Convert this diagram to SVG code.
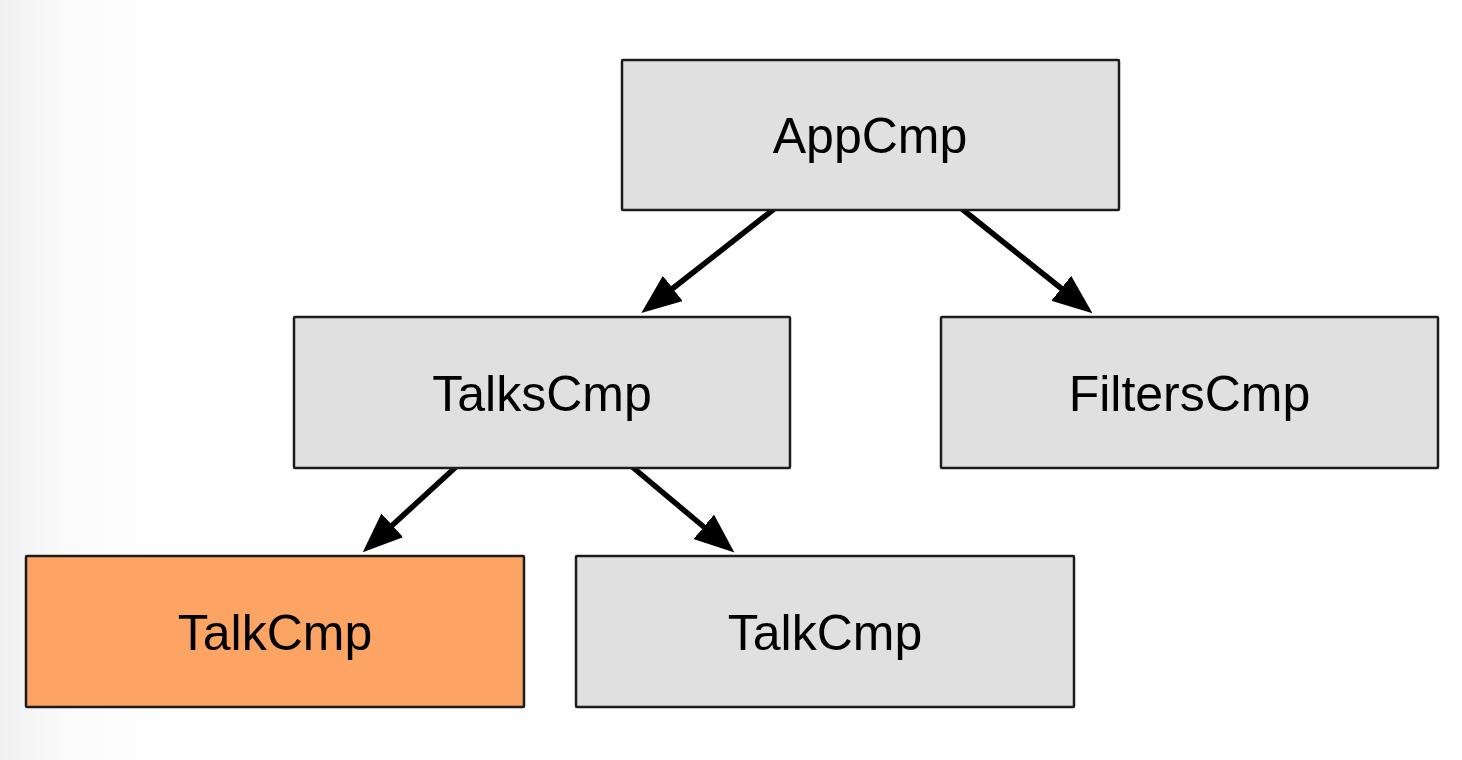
<svg xmlns="http://www.w3.org/2000/svg" width="1462" height="760" viewBox="0 0 1462 760">
  <defs>
    <linearGradient id="bg" x1="0" y1="0" x2="1" y2="0">
      <stop offset="0" stop-color="#f0f0f0"/>
      <stop offset="0.045" stop-color="#fbfbfb"/>
      <stop offset="0.12" stop-color="#ffffff"/>
      <stop offset="1" stop-color="#ffffff"/>
    </linearGradient>
    <marker id="arrow" markerUnits="userSpaceOnUse" markerWidth="42" markerHeight="34" refX="1" refY="16" orient="auto">
      <path d="M0,0 L40,16 L0,32 Z" fill="#000"/>
    </marker>
    <style>
      .box { stroke: #1c1c1c; stroke-width: 2.5; }
      .gray { fill: #e0e0e0; }
      .orange { fill: #fca463; }
      .label { font-family: "Liberation Sans", Arial, Helvetica, sans-serif; font-size: 50px; fill: #000; text-anchor: middle; }
      .edge { stroke: #000; stroke-width: 5.5; fill: none; marker-end: url(#arrow); }
    </style>
  </defs>
  <rect x="0" y="0" width="1462" height="760" fill="url(#bg)"/>
  <g id="connectors">
    <line class="edge" x1="774" y1="209" x2="672" y2="289"/>
    <line class="edge" x1="962" y1="209" x2="1062" y2="289"/>
    <line class="edge" x1="458" y1="465" x2="391.5" y2="526"/>
    <line class="edge" x1="630" y1="465" x2="704.5" y2="527.5"/>
  </g>
  <g id="AppCmp">
    <rect class="box gray" x="622" y="60" width="497" height="150" rx="1"/>
    <text class="label" x="870" y="153">AppCmp</text>
  </g>
  <g id="TalksCmp">
    <rect class="box gray" x="294" y="317" width="496" height="151" rx="1"/>
    <text class="label" x="542" y="411">TalksCmp</text>
  </g>
  <g id="FiltersCmp">
    <rect class="box gray" x="941" y="317" width="497" height="151" rx="1"/>
    <text class="label" x="1189.5" y="411">FiltersCmp</text>
  </g>
  <g id="TalkCmp1">
    <rect class="box orange" x="26" y="556" width="498" height="151" rx="1"/>
    <text class="label" x="275" y="650">TalkCmp</text>
  </g>
  <g id="TalkCmp2">
    <rect class="box gray" x="576" y="556" width="498" height="151" rx="1"/>
    <text class="label" x="825" y="650">TalkCmp</text>
  </g>
</svg>
